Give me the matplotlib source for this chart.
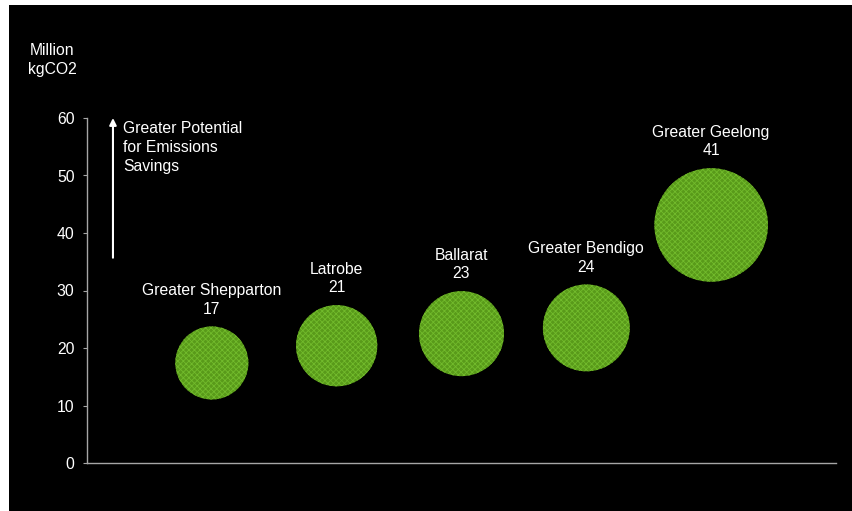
import matplotlib
matplotlib.use("Agg")
import matplotlib.pyplot as plt
from matplotlib.patches import Rectangle
import numpy as np

plt.rcParams['font.family'] = ['Liberation Sans', 'DejaVu Sans']
plt.rcParams['hatch.linewidth'] = 0.6

regions = ["Greater Shepparton", "Latrobe", "Ballarat", "Greater Bendigo", "Greater Geelong"]
emissions = [17.4, 20.4, 22.5, 23.5, 41.4]
bubble_sizes = [17, 21, 23, 24, 41]
yticks = [0, 10, 20, 30, 40, 50, 60]

fig = plt.figure(figsize=(8.53, 5.11), dpi=100)
fig.patch.set_facecolor('white')
fig.add_artist(Rectangle((9/853, 0), 1 - 9/853, 1 - 5/511, transform=fig.transFigure,
                         facecolor='black', edgecolor='none', zorder=-10))

ax = fig.add_axes([87/853, 1 - 463/511, (836 - 87)/853, (463 - 118)/511])
ax.set_facecolor('black')
ax.patch.set_alpha(0)

x = np.arange(1, len(regions) + 1)
scale = 163
sizes = [s * scale for s in bubble_sizes]
ax.scatter(x, emissions, s=sizes, facecolor='#599a1a', edgecolor='#72bb2c',
           hatch='xxxxxx', linewidth=0, zorder=3)

fs = 11.3
for xi, yi, name, sz, s in zip(x, emissions, regions, bubble_sizes, sizes):
    r_pt = np.sqrt(s) / 2
    ax.annotate(f"{name}\n{sz}", (xi, yi), xytext=(0, r_pt + 7), textcoords='offset points',
                ha='center', va='bottom', color='white', fontsize=fs, linespacing=1.3)

ax.set_xlim(0, 6)
ax.set_ylim(0, 60)
ax.set_yticks(yticks)
ax.set_xticks([])
for side in ['top', 'right']:
    ax.spines[side].set_visible(False)
for side in ['left', 'bottom']:
    ax.spines[side].set_color('#a6a6a6')
    ax.spines[side].set_linewidth(1)
ax.tick_params(axis='y', colors='#a6a6a6', labelcolor='white', labelsize=fs, length=3, pad=6)

ax.annotate('', xy=(0.208, 60), xytext=(0.208, 35.7),
            arrowprops=dict(arrowstyle='-|>', color='white', lw=1.5, mutation_scale=10,
                            shrinkA=0, shrinkB=0))
ax.text(0.288, 59.4, "Greater Potential\nfor Emissions\nSavings", color='white', fontsize=fs,
        ha='left', va='top', linespacing=1.3)

fig.text(52/853, 1 - 60/511, "Million\nkgCO2", color='white', fontsize=fs, ha='center',
         va='center', linespacing=1.3)

fig.savefig('out.png', dpi=100, facecolor=fig.get_facecolor())
